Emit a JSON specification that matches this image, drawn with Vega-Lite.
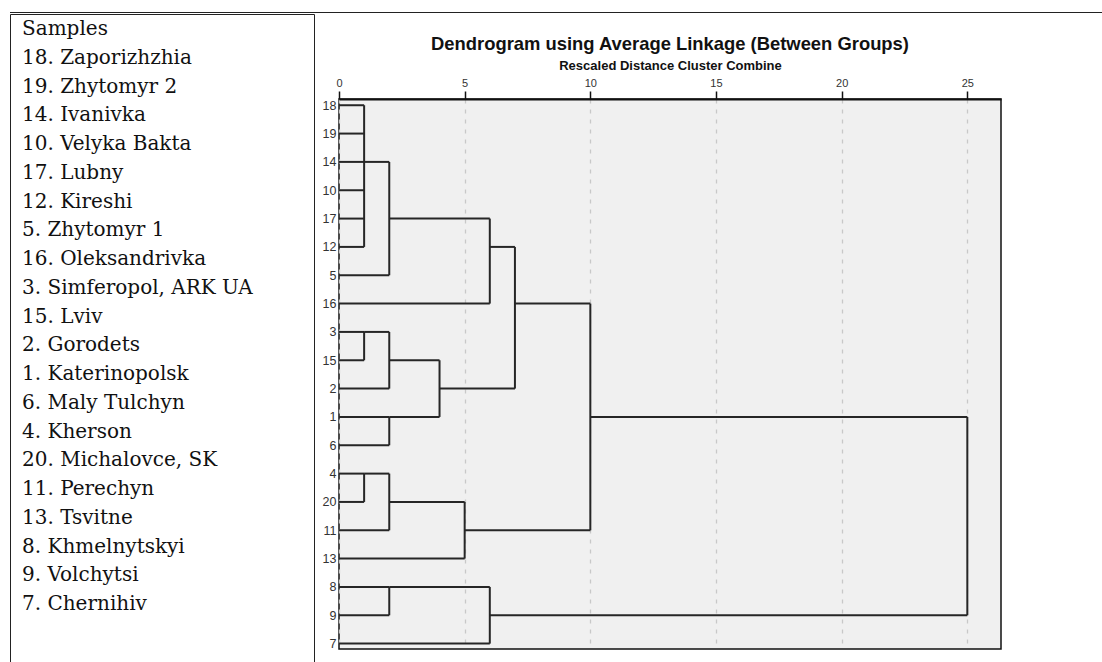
{
  "$schema": "https://vega.github.io/schema/vega-lite/v6.json",
  "padding": {"left": 9, "top": 12, "right": 0, "bottom": 0},
  "background": "white",
  "spacing": 0,
  "datasets": {
    "samples": [
      {"i": 0, "label": "Samples"},
      {"i": 1, "label": "18. Zaporizhzhia"},
      {"i": 2, "label": "19. Zhytomyr 2"},
      {"i": 3, "label": "14. Ivanivka"},
      {"i": 4, "label": "10. Velyka Bakta"},
      {"i": 5, "label": "17. Lubny"},
      {"i": 6, "label": "12. Kireshi"},
      {"i": 7, "label": "5. Zhytomyr 1"},
      {"i": 8, "label": "16. Oleksandrivka"},
      {"i": 9, "label": "3. Simferopol, ARK UA"},
      {"i": 10, "label": "15. Lviv"},
      {"i": 11, "label": "2. Gorodets"},
      {"i": 12, "label": "1. Katerinopolsk"},
      {"i": 13, "label": "6. Maly Tulchyn"},
      {"i": 14, "label": "4. Kherson"},
      {"i": 15, "label": "20. Michalovce, SK"},
      {"i": 16, "label": "11. Perechyn"},
      {"i": 17, "label": "13. Tsvitne"},
      {"i": 18, "label": "8. Khmelnytskyi"},
      {"i": 19, "label": "9. Volchytsi"},
      {"i": 20, "label": "7. Chernihiv"}
    ],
    "tree": [
      {"x": 0, "x2": 1, "y": 0, "y2": 0},
      {"x": 0, "x2": 1, "y": 1, "y2": 1},
      {"x": 0, "x2": 1, "y": 2, "y2": 2},
      {"x": 0, "x2": 1, "y": 3, "y2": 3},
      {"x": 0, "x2": 1, "y": 4, "y2": 4},
      {"x": 0, "x2": 1, "y": 5, "y2": 5},
      {"x": 0, "x2": 2, "y": 6, "y2": 6},
      {"x": 0, "x2": 6, "y": 7, "y2": 7},
      {"x": 0, "x2": 1, "y": 8, "y2": 8},
      {"x": 0, "x2": 1, "y": 9, "y2": 9},
      {"x": 0, "x2": 2, "y": 10, "y2": 10},
      {"x": 0, "x2": 2, "y": 11, "y2": 11},
      {"x": 0, "x2": 2, "y": 12, "y2": 12},
      {"x": 0, "x2": 1, "y": 13, "y2": 13},
      {"x": 0, "x2": 1, "y": 14, "y2": 14},
      {"x": 0, "x2": 2, "y": 15, "y2": 15},
      {"x": 0, "x2": 5, "y": 16, "y2": 16},
      {"x": 0, "x2": 2, "y": 17, "y2": 17},
      {"x": 0, "x2": 2, "y": 18, "y2": 18},
      {"x": 0, "x2": 6, "y": 19, "y2": 19},
      {"x": 1, "x2": 1, "y": 0, "y2": 5},
      {"x": 1, "x2": 2, "y": 2, "y2": 2},
      {"x": 2, "x2": 2, "y": 2, "y2": 6},
      {"x": 2, "x2": 6, "y": 4, "y2": 4},
      {"x": 6, "x2": 6, "y": 4, "y2": 7},
      {"x": 6, "x2": 7, "y": 5, "y2": 5},
      {"x": 7, "x2": 7, "y": 5, "y2": 10},
      {"x": 7, "x2": 10, "y": 7, "y2": 7},
      {"x": 1, "x2": 1, "y": 8, "y2": 9},
      {"x": 1, "x2": 2, "y": 8, "y2": 8},
      {"x": 2, "x2": 2, "y": 8, "y2": 10},
      {"x": 2, "x2": 4, "y": 9, "y2": 9},
      {"x": 2, "x2": 2, "y": 11, "y2": 12},
      {"x": 2, "x2": 4, "y": 11, "y2": 11},
      {"x": 4, "x2": 4, "y": 9, "y2": 11},
      {"x": 4, "x2": 7, "y": 10, "y2": 10},
      {"x": 1, "x2": 1, "y": 13, "y2": 14},
      {"x": 1, "x2": 2, "y": 13, "y2": 13},
      {"x": 2, "x2": 2, "y": 13, "y2": 15},
      {"x": 2, "x2": 5, "y": 14, "y2": 14},
      {"x": 5, "x2": 5, "y": 14, "y2": 16},
      {"x": 5, "x2": 10, "y": 15, "y2": 15},
      {"x": 10, "x2": 10, "y": 7, "y2": 15},
      {"x": 10, "x2": 25, "y": 11, "y2": 11},
      {"x": 2, "x2": 2, "y": 17, "y2": 18},
      {"x": 2, "x2": 6, "y": 17, "y2": 17},
      {"x": 6, "x2": 6, "y": 17, "y2": 19},
      {"x": 6, "x2": 25, "y": 18, "y2": 18},
      {"x": 25, "x2": 25, "y": 11, "y2": 18}
    ]
  },
  "vconcat": [
    {
      "width": 1093,
      "height": 1,
      "view": {"fill": "#222", "stroke": null},
      "data": {"values": []},
      "mark": {"type": "rule"},
      "encoding": {}
    },
    {
      "spacing": 6,
      "hconcat": [
        {
          "width": 304,
          "height": 650,
          "view": {"stroke": "#222", "strokeWidth": 1, "fill": "white"},
          "data": {"name": "samples"},
          "mark": {"type": "text", "align": "left", "baseline": "middle", "font": "DejaVu Serif", "fontSize": 20, "color": "#111", "dx": 12},
          "encoding": {
            "x": {"datum": 0, "type": "quantitative", "scale": {"domain": [0, 1]}, "axis": null},
            "y": {"field": "i", "type": "quantitative", "scale": {"domain": [-0.522, 22.087], "reverse": true, "nice": false, "zero": false}, "axis": null},
            "text": {"field": "label"}
          }
        },
        {
          "spacing": 0,
          "vconcat": [
            {
              "width": 662,
              "height": 19,
              "view": {"stroke": null},
              "data": {"values": []},
              "mark": {"type": "rule"},
              "encoding": {}
            },
            {
              "width": 662,
              "height": 550,
              "view": {"fill": "#f0f0f0", "stroke": "#111", "strokeWidth": 1.5},
              "title": {"text": "Dendrogram using Average Linkage (Between Groups)", "font": "Liberation Sans", "fontSize": 18.4, "fontWeight": "bold", "color": "#111", "anchor": "middle", "frame": "group", "offset": 6},
              "data": {"name": "tree"},
              "mark": {"type": "rule", "color": "#262626", "strokeWidth": 2},
              "encoding": {
                "x": {"field": "x", "type": "quantitative",
                  "scale": {"domain": [0, 26.34], "nice": false, "zero": false},
                  "axis": {"orient": "top", "values": [0, 5, 10, 15, 20, 25], "title": "Rescaled Distance Cluster Combine",
                    "titleFont": "Liberation Sans", "titleFontSize": 13, "titleFontWeight": "bold", "titleColor": "#111", "titlePadding": 5,
                    "labelFont": "Liberation Sans", "labelFontSize": 11, "labelColor": "#333", "labelPadding": 3, "labelFlush": false,
                    "tickSize": 8, "tickColor": "#111", "tickWidth": 1.5, "domainColor": "#111", "domainWidth": 2,
                    "grid": true, "gridColor": "#c8c8c8", "gridDash": [4, 6], "gridWidth": 1.3}},
                "x2": {"field": "x2"},
                "y": {"field": "y", "type": "quantitative",
                  "scale": {"domain": [-0.22, 19.19], "reverse": true, "nice": false, "zero": false},
                  "axis": {"orient": "left", "values": [0, 1, 2, 3, 4, 5, 6, 7, 8, 9, 10, 11, 12, 13, 14, 15, 16, 17, 18, 19],
                    "labelExpr": "['18','19','14','10','17','12','5','16','3','15','2','1','6','4','20','11','13','8','9','7'][datum.value]",
                    "labelOverlap": false,
                    "ticks": false, "domain": false, "grid": false, "title": null,
                    "labelFont": "Liberation Sans", "labelFontSize": 12.5, "labelColor": "#333", "labelPadding": 3}},
                "y2": {"field": "y2"}
              }
            }
          ]
        }
      ]
    }
  ]
}
